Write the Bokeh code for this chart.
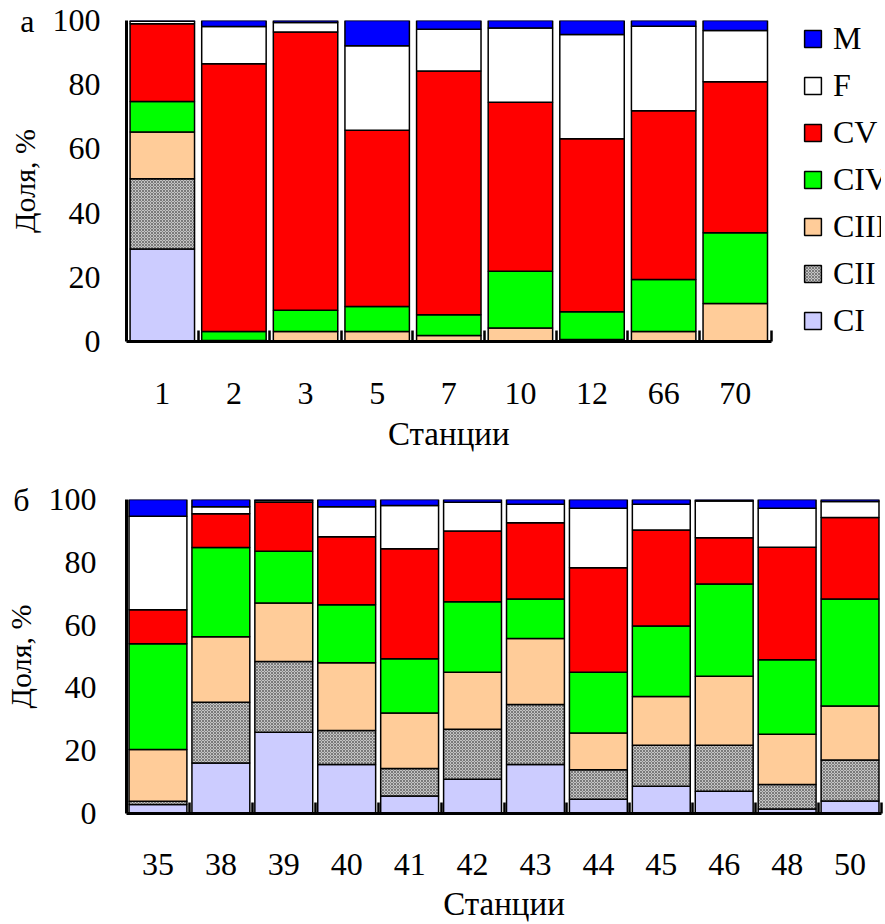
from bokeh.plotting import figure
from bokeh.models import (Range1d, FixedTicker, Legend, LegendItem, ColumnDataSource,
                          LinearAxis)
from bokeh.layouts import column
from bokeh.transform import stack
from bokeh.embed import file_html
from bokeh.resources import INLINE

# ---------------- data ----------------
stages = ["CI", "CII", "CIII", "CIV", "CV", "F", "M"]

stations_a = ["1", "2", "3", "5", "7", "10", "12", "66", "70"]
CI_a   = [28.8, 0.0, 0.0, 0.0, 0.0, 0.0, 0.0, 0.0, 0.0]
CII_a  = [21.9, 0.0, 0.0, 0.0, 0.0, 0.0, 0.0, 0.0, 0.0]
CIII_a = [14.6, 0.3, 3.1, 3.1, 1.9, 4.2, 0.6, 3.1, 11.8]
CIV_a  = [9.5, 2.8, 6.6, 7.8, 6.4, 17.7, 8.7, 16.2, 22.1]
CV_a   = [24.2, 83.4, 86.7, 54.9, 76.0, 52.6, 53.9, 52.6, 47.0]
F_a    = [0.8, 11.6, 3.0, 26.3, 13.0, 23.2, 32.4, 26.3, 16.0]
M_a    = [0.2, 1.9, 0.6, 7.9, 2.7, 2.3, 4.4, 1.8, 3.1]

stations_b = ["35", "38", "39", "40", "41", "42", "43", "44", "45", "46", "48", "50"]
CI_b   = [2.9, 16.1, 25.9, 15.6, 5.6, 10.9, 15.6, 4.5, 8.7, 7.1, 1.4, 4.0]
CII_b  = [1.0, 19.3, 22.5, 10.8, 8.7, 15.9, 19.1, 9.4, 13.0, 14.6, 7.8, 13.0]
CIII_b = [16.5, 20.9, 18.6, 21.6, 17.7, 18.2, 21.0, 11.7, 15.6, 22.0, 16.0, 17.2]
CIV_b  = [33.7, 28.4, 16.5, 18.5, 17.3, 22.4, 12.6, 19.4, 22.4, 29.4, 23.8, 34.1]
CV_b   = [10.8, 10.8, 15.6, 21.6, 35.0, 22.6, 24.3, 33.3, 30.6, 14.7, 35.8, 26.0]
F_b    = [29.8, 2.2, 0.6, 9.6, 13.8, 9.1, 5.9, 18.9, 8.2, 11.7, 12.4, 5.1]
M_b    = [5.3, 2.3, 0.3, 2.3, 1.9, 0.9, 1.5, 2.8, 1.5, 0.5, 2.8, 0.6]

y_ticks = [0, 20, 40, 60, 80, 100]

colors = {"CI": "#ccccff", "CII": "#c4c4c4", "CIII": "#ffcc99", "CIV": "#00ff00",
          "CV": "#ff0000", "F": "#ffffff", "M": "#0000ff"}

FONT = "Liberation Serif"


def make_fig(stations, series, width, height, mb, bars_px, bar_w, y_standoff, x_standoff,
             title_standoff, letter, letter_standoffs, legend=False):
    n = len(stations)
    centers = [i + 0.5 for i in range(n)]
    data = dict(x=centers)
    data.update(series)
    src = ColumnDataSource(data)

    frame_w = width - mb[0] - mb[1]
    x_end = n * frame_w / bars_px  # room to the right of the bars for the legend

    p = figure(width=width, height=height, output_backend="svg", toolbar_location=None,
               x_range=Range1d(0, x_end), y_range=Range1d(0, 100),
               min_border_left=mb[0], min_border_right=mb[1],
               min_border_top=mb[2], min_border_bottom=mb[3])
    p.outline_line_color = None
    p.xgrid.visible = False
    p.ygrid.visible = False

    rends = {}
    for k, key in enumerate(stages):
        bottom = 0 if k == 0 else stack(*stages[:k])
        kw = {}
        if key == "CII":
            kw = dict(hatch_pattern="x", hatch_color="#7a7a7a", hatch_scale=3, hatch_weight=1)
        r = p.vbar(x="x", width=bar_w, bottom=bottom, top=stack(*stages[:k + 1]), source=src,
                   fill_color=colors[key], line_color="black", line_width=1.5, **kw)
        rends[key] = r

    # x axis
    xa = p.xaxis[0]
    xa.bounds = (0, n)
    xa.ticker = FixedTicker(ticks=centers, minor_ticks=[float(i) for i in range(1, n + 1)])
    xa.major_label_overrides = {c: s for c, s in zip(centers, stations)}
    xa.major_tick_line_color = None
    xa.major_tick_in = 0
    xa.major_tick_out = 0
    xa.minor_tick_in = 11
    xa.minor_tick_out = 0
    xa.minor_tick_line_width = 2.5
    xa.minor_tick_line_color = "black"
    xa.axis_line_width = 3
    xa.axis_line_color = "black"
    xa.major_label_standoff = x_standoff
    xa.major_label_text_font = FONT
    xa.major_label_text_font_size = "32px"
    xa.major_label_text_color = "black"

    # x title as the single label of a second, line-less axis below (centred on the bars)
    ta = LinearAxis(ticker=FixedTicker(ticks=[n / 2]),
                    major_label_overrides={n / 2: "Станции"},
                    axis_line_color=None, major_tick_line_color=None,
                    minor_tick_line_color=None, major_tick_in=0, major_tick_out=0,
                    major_label_standoff=title_standoff,
                    major_label_text_font=FONT, major_label_text_font_size="33px",
                    major_label_text_color="black")
    p.add_layout(ta, "below")

    # y axis (tick labels only)
    ya = p.yaxis[0]
    ya.ticker = FixedTicker(ticks=y_ticks)
    ya.major_tick_line_color = None
    ya.minor_tick_line_color = None
    ya.major_tick_in = 0
    ya.major_tick_out = 0
    ya.axis_line_width = 3
    ya.axis_line_color = "black"
    ya.major_label_standoff = y_standoff
    ya.major_label_text_font = FONT
    ya.major_label_text_font_size = "32px"
    ya.major_label_text_color = "black"

    # outer left axis: panel letter at the top and the y title
    la = LinearAxis(ticker=FixedTicker(ticks=[100]), major_label_overrides={100: letter},
                    axis_line_color=None, major_tick_line_color=None,
                    minor_tick_line_color=None, major_tick_in=0, major_tick_out=0,
                    major_label_standoff=letter_standoffs[0],
                    major_label_text_font=FONT, major_label_text_font_size="32px",
                    major_label_text_color="black",
                    axis_label="Доля, %", axis_label_text_font=FONT,
                    axis_label_text_font_size="30px", axis_label_text_font_style="normal",
                    axis_label_text_color="black", axis_label_standoff=letter_standoffs[1])
    p.add_layout(la, "left")

    if legend:
        items = [LegendItem(label=key, renderers=[rends[key]]) for key in reversed(stages)]
        leg = Legend(items=items, location=(bars_px + 28, 2), orientation="vertical",
                     glyph_width=21, glyph_height=21,
                     label_text_font=FONT, label_text_font_size="32px",
                     label_text_color="black", label_standoff=10, spacing=10,
                     padding=0, margin=0, border_line_color=None,
                     background_fill_alpha=0)
        p.add_layout(leg)
    return p


series_a = dict(CI=CI_a, CII=CII_a, CIII=CIII_a, CIV=CIV_a, CV=CV_a, F=F_a, M=M_a)
series_b = dict(CI=CI_b, CII=CII_b, CIII=CIII_b, CIV=CIV_b, CV=CV_b, F=F_b, M=M_b)

p1 = make_fig(stations_a, series_a, 885, 470, (122, 4, 20, 129), 648, 0.9, 26, 41, 9,
              "а", (15, -24), legend=True)
p2 = make_fig(stations_b, series_b, 885, 454, (126, 4, 29, 106), 755, 0.92, 30, 40, 8,
              "б", (16, -27))

layout = column(p1, p2, spacing=0)
open("out.html", "w").write(file_html(layout, INLINE))
